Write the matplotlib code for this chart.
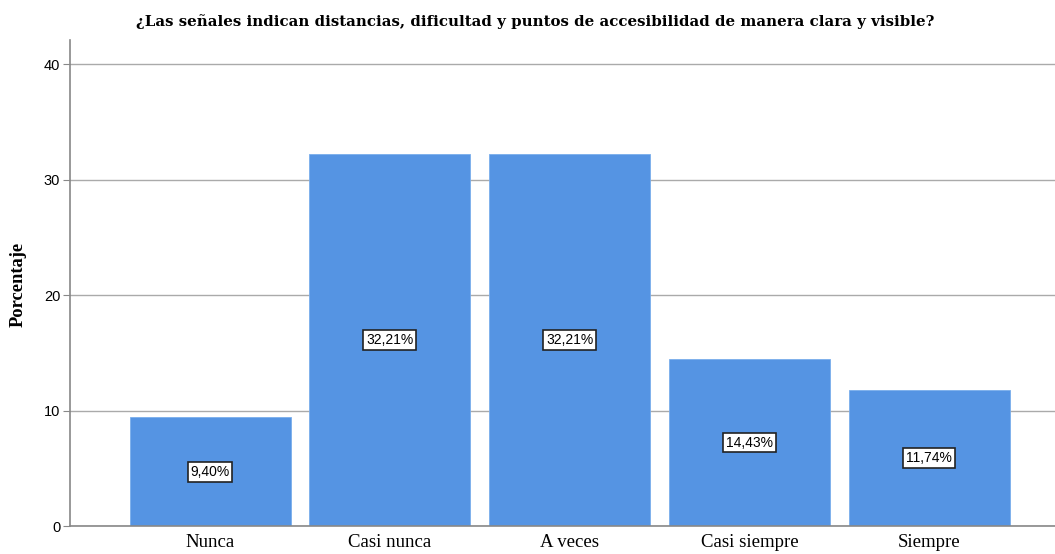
'''
Bar chart: senales y accesibilidad
'''
import numpy as np
from matplotlib import pyplot as plt

categorias = ['Nunca', 'Casi nunca', 'A veces', 'Casi siempre', 'Siempre']
porcentajes = [9.40, 32.21, 32.21, 14.43, 11.74]
etiquetas = ['9,40%', '32,21%', '32,21%', '14,43%', '11,74%']
yticks = [0, 10, 20, 30, 40]

titulo = '¿Las señales indican distancias, dificultad y puntos de accesibilidad de manera clara y visible?'

fig = plt.figure(figsize=(10.55, 5.54), dpi=100)
ax = fig.add_axes([0.0664, 0.0505, 0.9336, 0.8775])

x = np.arange(len(categorias))
bars = ax.bar(x, porcentajes, width=0.896, color='#5594E3', edgecolor='#7AAEEC',
              linewidth=0.6, zorder=2)

for b, txt in zip(bars, etiquetas):
    ax.text(b.get_x() + b.get_width() / 2, b.get_height() / 2, txt,
            ha='center', va='center', fontsize=10, family='Liberation Sans',
            bbox=dict(boxstyle='square,pad=0.2', fc='white', ec='#222222', lw=1.2),
            zorder=3)

ax.set_xlim(-0.779, 4.70)
ax.set_ylim(0, 42.1)
ax.set_yticks(yticks)
ax.set_yticklabels([str(v) for v in yticks], family='Liberation Sans', fontsize=10.5)
ax.set_xticks(x)
ax.set_xticklabels(categorias, family='Liberation Serif', fontsize=13.5)
ax.tick_params(axis='x', length=0, pad=6)
ax.tick_params(axis='y', length=5, color='#888888', pad=2)
ax.yaxis.grid(True, color='#AAAAAA', lw=1, zorder=0)
ax.set_axisbelow(True)

for s in ['top', 'right']:
    ax.spines[s].set_visible(False)
for s in ['left', 'bottom']:
    ax.spines[s].set_color('#888888')
    ax.spines[s].set_linewidth(1.2)

fig.text(18 / 1055, 1 - 284 / 554, 'Porcentaje', rotation=90, ha='center', va='center',
         family='Liberation Serif', fontweight='bold', fontsize=13.3)
fig.text(535 / 1055, 1 - 22 / 554, titulo, ha='center', va='center',
         family='DejaVu Serif', fontweight='bold', fontsize=10.8)

plt.savefig('out.png', dpi=100)
plt.close(fig)
